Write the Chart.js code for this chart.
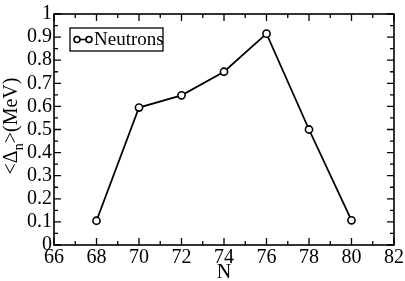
<!DOCTYPE html>
<html>
<head>
<meta charset="utf-8">
<script src="https://cdn.jsdelivr.net/npm/chart.js@4"></script>
<style>
  html, body { margin: 0; padding: 0; background: #fff; }
  #wrap { width: 405px; height: 281px; }
</style>
</head>
<body>
<div id="wrap"><canvas id="c" width="405" height="281"></canvas></div>
<script>
// data
const nValues = [68, 70, 72, 74, 76, 78, 80];
const deltaN = [0.105, 0.595, 0.648, 0.75, 0.915, 0.50, 0.107];
const seriesLabel = 'Neutrons';
const xTicks = [66, 68, 70, 72, 74, 76, 78, 80, 82];
const yTicks = [0, 0.1, 0.2, 0.3, 0.4, 0.5, 0.6, 0.7, 0.8, 0.9, 1];

const ink = '#000000';
const serif = "'Liberation Serif', 'DejaVu Serif', serif";

// inside ticks on all four sides + frame
const frameTicks = {
  id: 'frameTicks',
  afterDraw(chart) {
    const { ctx, chartArea: a, scales: { x, y } } = chart;
    ctx.save();
    ctx.strokeStyle = ink;
    ctx.lineWidth = 1.6;
    ctx.strokeRect(a.left, a.top, a.right - a.left, a.bottom - a.top);
    ctx.lineWidth = 1.3;
    ctx.beginPath();
    for (let v = x.min; v <= x.max; v += 1) {
      const px = x.getPixelForValue(v);
      const len = v % 2 === 0 ? 7 : 4;
      ctx.moveTo(px, a.bottom); ctx.lineTo(px, a.bottom - len);
      ctx.moveTo(px, a.top); ctx.lineTo(px, a.top + len);
    }
    for (let i = 0; i <= 20; i++) {
      const py = y.getPixelForValue(i * 0.05);
      const len = i % 2 === 0 ? 7 : 4;
      ctx.moveTo(a.left, py); ctx.lineTo(a.left + len, py);
      ctx.moveTo(a.right, py); ctx.lineTo(a.right - len, py);
    }
    ctx.stroke();

    // legend box
    const bx = a.left + 16, by = a.top + 14, bw = 93, bh = 23;
    ctx.lineWidth = 1.3;
    ctx.strokeRect(bx, by, bw, bh);
    const cy = by + bh / 2;
    ctx.lineWidth = 1.6;
    ctx.beginPath();
    ctx.moveTo(bx + 7, cy); ctx.lineTo(bx + 19, cy);
    ctx.stroke();
    [bx + 7, bx + 19].forEach(cx => {
      ctx.beginPath();
      ctx.arc(cx, cy, 3, 0, Math.PI * 2);
      ctx.fillStyle = '#fff';
      ctx.fill();
      ctx.stroke();
    });
    ctx.fillStyle = ink;
    ctx.font = '19px ' + serif;
    ctx.textBaseline = 'middle';
    ctx.textAlign = 'left';
    ctx.fillText(seriesLabel, bx + 24, cy + 1);

    // y axis title with subscript
    ctx.translate(10, 126);
    ctx.rotate(-Math.PI / 2);
    ctx.textBaseline = 'alphabetic';
    const p1 = '<\u0394', p3 = '>(MeV)';
    ctx.font = '20px ' + serif;
    const w1 = ctx.measureText(p1).width;
    const w3 = ctx.measureText(p3).width;
    ctx.font = '14px ' + serif;
    const w2 = ctx.measureText('n').width;
    const sx = -(w1 + w2 + w3) / 2;
    ctx.font = '20px ' + serif;
    ctx.fillText(p1, sx, 7);
    ctx.font = '14px ' + serif;
    ctx.fillText('n', sx + w1, 13);
    ctx.font = '20px ' + serif;
    ctx.fillText(p3, sx + w1 + w2, 7);
    ctx.restore();
  }
};

new Chart(document.getElementById('c'), {
  type: 'line',
  data: {
    datasets: [{
      label: seriesLabel,
      data: nValues.map((n, i) => ({ x: n, y: deltaN[i] })),
      borderColor: ink,
      borderWidth: 1.8,
      pointStyle: 'circle',
      pointRadius: 3.6,
      pointBorderWidth: 1.6,
      pointBorderColor: ink,
      pointBackgroundColor: '#fff',
      fill: false,
      tension: 0
    }]
  },
  options: {
    responsive: false,
    animation: false,
    layout: { padding: { top: 8, right: 11, left: 0, bottom: 0 } },
    plugins: {
      legend: { display: false },
      tooltip: { enabled: false }
    },
    scales: {
      x: {
        type: 'linear',
        min: 66, max: 82,
        afterBuildTicks: s => { s.ticks = xTicks.map(v => ({ value: v })); },
        grid: { display: false, drawTicks: false },
        border: { display: false },
        ticks: { color: ink, font: { family: serif, size: 20 }, padding: 1, maxRotation: 0, autoSkip: false },
        title: { display: true, text: 'N', color: ink, font: { family: serif, size: 20 }, padding: { top: 0, bottom: -4 } },
        afterFit: s => { s.height = 36; }
      },
      y: {
        min: 0, max: 1,
        afterBuildTicks: s => { s.ticks = yTicks.map(v => ({ value: v })); },
        grid: { display: false, drawTicks: false },
        border: { display: false },
        ticks: {
          color: ink, font: { family: serif, size: 20 }, padding: 2, autoSkip: false,
          callback: v => String(Number(v.toFixed(1)))
        },
        afterFit: s => { s.width = 54; }
      }
    }
  },
  plugins: [frameTicks]
});
</script>
</body>
</html>
